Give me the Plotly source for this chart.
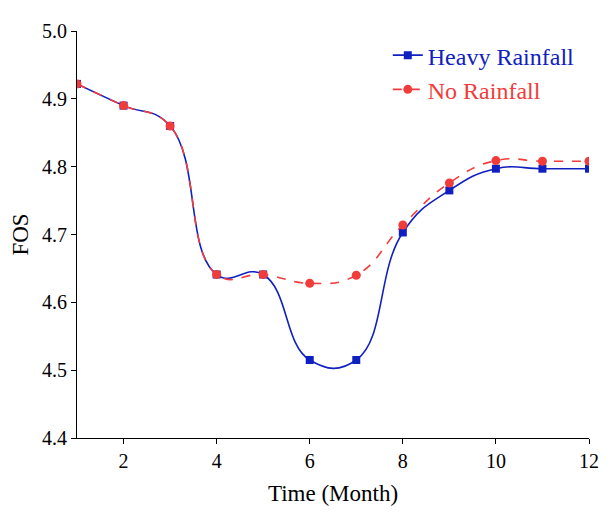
import plotly.graph_objects as go

months = [1, 2, 3, 4, 5, 6, 7, 8, 9, 10, 11, 12]
heavy_rainfall = [4.922, 4.890, 4.860, 4.641, 4.641, 4.515, 4.515, 4.703, 4.765, 4.797, 4.797, 4.797]
no_rainfall = [4.922, 4.890, 4.860, 4.641, 4.641, 4.628, 4.640, 4.714, 4.776, 4.809, 4.808, 4.808]
x_ticks = [2, 4, 6, 8, 10, 12]
y_ticks = [4.4, 4.5, 4.6, 4.7, 4.8, 4.9, 5.0]

BLUE = "#1020c0"
RED = "#f23c3c"
FONT = "Liberation Serif, Times New Roman, serif"

fig = go.Figure()
fig.add_trace(go.Scatter(
    x=months, y=heavy_rainfall, mode="lines+markers",
    name=f"<span style='color:{BLUE}'>Heavy Rainfall</span>",
    line=dict(color=BLUE, width=1.6, shape="spline", smoothing=1.3),
    marker=dict(symbol="square", size=8, color=BLUE),
))
fig.add_trace(go.Scatter(
    x=months, y=no_rainfall, mode="lines+markers",
    name=f"<span style='color:{RED}'>No Rainfall</span>",
    line=dict(color=RED, width=1.6, dash="dash", shape="spline", smoothing=1.3),
    marker=dict(symbol="circle", size=9, color=RED),
))

axis_common = dict(
    showline=True, linecolor="black", linewidth=1.2,
    ticks="outside", ticklen=5, tickwidth=1.2, tickcolor="black",
    showgrid=False, zeroline=False, mirror=False,
    tickfont=dict(family=FONT, size=20, color="black"),
)

fig.update_layout(
    width=603, height=505,
    margin=dict(l=68, r=13, t=15, b=70),
    plot_bgcolor="white", paper_bgcolor="white",
    font=dict(family=FONT, size=20, color="black"),
    xaxis=dict(range=[1, 12], tickvals=x_ticks,
               title=dict(text="Time (Month)", font=dict(family=FONT, size=23), standoff=13),
               **axis_common),
    yaxis=dict(range=[4.4, 5.0], tickvals=y_ticks, tickformat=".1f",
               title=dict(text="FOS", font=dict(family=FONT, size=23), standoff=6),
               **axis_common),
    legend=dict(x=0.607, y=0.995, xanchor="left", yanchor="top",
                bgcolor="rgba(0,0,0,0)", font=dict(family=FONT, size=24),
                itemwidth=30, tracegroupgap=0),
    showlegend=True,
)

fig.write_html("out.html")
